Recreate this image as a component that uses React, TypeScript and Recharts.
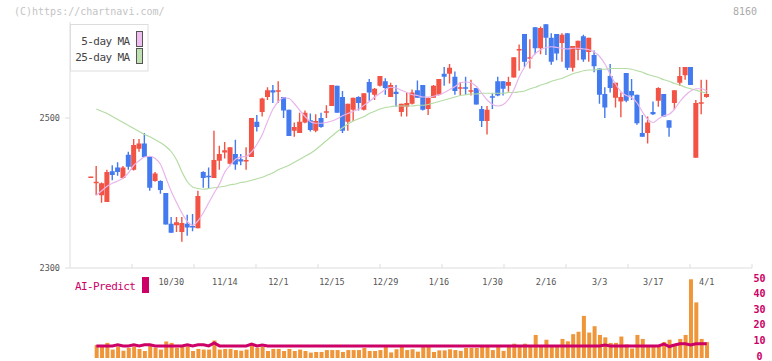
import { Bar, ComposedChart, Line, XAxis, YAxis } from "recharts";

const RED = "#f25345";
const BLUE = "#437af0";
const MAGENTA = "#cc0066";
const GRID = "#dddddd";
const MONO = "'DejaVu Sans Mono', monospace";

// daily OHLC, oldest first (i = 0 .. 115)
const opens = [
  2421, 2414, 2397, 2388, 2429, 2434, 2420, 2451, 2431, 2459,
  2466, 2448, 2416, 2416, 2400, 2359, 2357, 2348, 2359, 2356,
  2353, 2428, 2422, 2420, 2443, 2454, 2439, 2452, 2445, 2442,
  2448, 2495, 2508, 2528, 2537, 2536, 2528, 2511, 2483, 2480,
  2494, 2497, 2483, 2500, 2507, 2516, 2543, 2528, 2495, 2511,
  2528, 2511, 2548, 2531, 2543, 2549, 2528, 2535, 2508, 2515,
  2519, 2537, 2544, 2512, 2527, 2531, 2559, 2559, 2555, 2540,
  2540, 2536, 2540, 2512, 2496, 2529, 2549, 2549, 2543, 2554,
  2591, 2612, 2579, 2621, 2593, 2625, 2607, 2612, 2600, 2613,
  2567, 2591, 2609, 2588, 2584, 2566, 2532, 2556, 2527, 2522,
  2560, 2536, 2531, 2480, 2480, 2508, 2523, 2532, 2497, 2520,
  2547, 2557, 2568, 2447, 2520, 2528,
];
const highs = [
  2421.5, 2436, 2414, 2431, 2437, 2441, 2436, 2455, 2472, 2472,
  2480, 2449, 2428, 2417, 2400, 2368, 2368, 2368, 2371, 2372,
  2403, 2429, 2434, 2483, 2463, 2468, 2461, 2471, 2452, 2461,
  2500, 2504, 2527, 2541, 2544, 2549, 2528, 2511, 2494, 2507,
  2510, 2506, 2505, 2507, 2517, 2544, 2543, 2536, 2519, 2527,
  2529, 2533, 2552, 2540, 2556, 2553, 2547, 2544, 2519, 2534,
  2538, 2550, 2544, 2527, 2544, 2552, 2568, 2572, 2562, 2548,
  2555, 2551, 2540, 2516, 2516, 2533, 2555, 2549, 2555, 2581,
  2598, 2612, 2605, 2621, 2622, 2625, 2613, 2612, 2613, 2613,
  2596, 2603, 2611, 2607, 2590, 2566, 2541, 2572, 2547, 2534,
  2560, 2552, 2531, 2504, 2502, 2522, 2541, 2532, 2497, 2537,
  2568, 2568, 2568, 2524, 2551, 2551,
];
const lows = [
  2420.5, 2397, 2387, 2388, 2417, 2423, 2419, 2431, 2430, 2455,
  2448, 2403, 2415, 2399, 2358, 2347, 2348, 2335, 2343, 2349,
  2353, 2407, 2406, 2420, 2431, 2446, 2438, 2431, 2437, 2431,
  2448, 2482, 2502, 2524, 2520, 2520, 2500, 2476, 2475, 2480,
  2493, 2482, 2481, 2487, 2500, 2516, 2507, 2480, 2483, 2496,
  2510, 2510, 2523, 2524, 2542, 2531, 2528, 2515, 2502, 2502,
  2518, 2527, 2510, 2504, 2527, 2530, 2543, 2546, 2531, 2530,
  2531, 2530, 2518, 2488, 2478, 2512, 2529, 2530, 2535, 2554,
  2563, 2568, 2566, 2585, 2585, 2584, 2571, 2577, 2575, 2564,
  2562, 2577, 2575, 2575, 2561, 2519, 2500, 2534, 2514, 2501,
  2521, 2524, 2491, 2475, 2466, 2504, 2515, 2502, 2475, 2511,
  2543, 2551, 2544, 2447, 2505, 2527,
];
const closes = [
  2421, 2414, 2413, 2428, 2424, 2428, 2434, 2435, 2464, 2466,
  2448, 2407, 2426, 2404, 2358, 2347, 2361, 2360, 2354, 2354,
  2396, 2420, 2420, 2444, 2452, 2457, 2461, 2438, 2442, 2444,
  2500, 2488, 2526, 2537, 2534, 2536, 2510, 2476, 2488, 2495,
  2507, 2484, 2496, 2488, 2508, 2544, 2507, 2483, 2519, 2527,
  2520, 2533, 2534, 2539, 2556, 2540, 2544, 2532, 2519, 2520,
  2534, 2527, 2511, 2527, 2543, 2552, 2555, 2567, 2536, 2540,
  2539, 2536, 2518, 2496, 2511, 2527, 2530, 2539, 2548, 2581,
  2591, 2575, 2580, 2593, 2620, 2607, 2575, 2586, 2611, 2567,
  2596, 2603, 2578, 2607, 2569, 2531, 2514, 2540, 2547, 2528,
  2523, 2530, 2493, 2475, 2494, 2505, 2540, 2502, 2487, 2537,
  2556, 2568, 2544, 2520, 2520, 2532,
];

const ma5 = [
  null, 2397, 2403, 2409, 2413, 2416, 2420, 2427, 2437, 2443,
  2448, 2449, 2446, 2438, 2420, 2402, 2387, 2373, 2362, 2357,
  2363, 2374, 2387, 2400, 2412, 2428, 2437, 2445, 2448, 2449,
  2455, 2465, 2478, 2496, 2512, 2522, 2527, 2526, 2519, 2510,
  2502, 2495, 2493, 2493, 2494, 2496, 2499, 2503, 2506, 2509,
  2512, 2517, 2522, 2528, 2533, 2538, 2541, 2540, 2537, 2534,
  2531, 2530, 2528, 2528, 2529, 2531, 2534, 2538, 2542, 2547,
  2548, 2547, 2542, 2533, 2524, 2518, 2516, 2518, 2525, 2538,
  2555, 2568, 2578, 2586, 2591, 2594, 2595, 2594, 2593, 2592,
  2593, 2593, 2592, 2591, 2588, 2582, 2572, 2558, 2545, 2535,
  2530, 2527, 2520, 2508, 2498, 2494, 2499, 2503, 2505, 2512,
  2522, 2530, 2536, 2539, 2539, 2536,
];
const ma25 = [
  null, 2512, 2509, 2506, 2502, 2498, 2494, 2490, 2486, 2482,
  2478, 2475, 2471, 2467, 2462, 2455, 2444, 2428, 2415, 2408,
  2406, 2405, 2406, 2407, 2408, 2409, 2411, 2412, 2414, 2415,
  2417, 2419, 2421, 2424, 2427, 2431, 2434, 2437, 2441, 2445,
  2449, 2453, 2458, 2464, 2470, 2476, 2482, 2487, 2492, 2496,
  2499, 2502, 2506, 2509, 2512, 2514, 2515, 2516, 2516, 2516,
  2516, 2517, 2517, 2518, 2520, 2522, 2524, 2526, 2528, 2530,
  2531, 2532, 2532, 2533, 2533, 2533, 2533, 2533, 2534, 2534,
  2535, 2536, 2539, 2541, 2544, 2546, 2549, 2551, 2553, 2556,
  2559, 2561, 2563, 2564, 2564, 2565, 2565, 2566, 2566, 2566,
  2566, 2565, 2563, 2561, 2558, 2556, 2554, 2551, 2549, 2546,
  2544, 2541, 2539, 2537, 2535, 2533,
];

const volume = [
  null, 8.2, 7.4, 9.5, 5.3, 7.2, 4.6, 6.3, 7.2, 5.7,
  4.4, 7.8, 6.5, 5.3, 10.4, 9.5, 6.5, 7.4, 7.4, 4.4,
  5.7, 5.3, 5.3, 11, 5.3, 5.7, 5.7, 5, 4.6, 5.3,
  8.2, 6.5, 7, 4.4, 5.7, 5.7, 4.4, 5.7, 4.4, 5.3,
  4.4, 3.4, 3.8, 3.8, 5, 5, 5, 3.8, 5, 5,
  5, 6.3, 4.4, 4.4, 5, 7.4, 3.5, 5.5, 7, 5,
  5.5, 4, 7.5, 7.5, 3.8, 4.8, 4.8, 5.5, 5, 4.5,
  6.3, 6.3, 6.3, 7.5, 7.5, 5, 7.5, 4.5, 7.5, 9,
  7.5, 9, 7.5, 14.5, 7.5, 11.5, 7.5, 7.5, 12, 10.5,
  15, 16.5, 26.5, 16, 20, 14.5, 13, 9.5, 9.5, 13.5,
  8.5, 6, 14.5, 12, 7, 7, 7, 10, 11.5, 8,
  12, 14.5, 49.5, 35, 12, 10,
];
const aiPredict = [
  null, 7.6, 7.6, 7.6, 7.6, 8.3, 7.6, 7.6, 8.3, 7.6,
  8.3, 8.3, 7.6, 7.6, 7.6, 7.6, 7.6, 7.6, 8.3, 7.6,
  8.3, 8.3, 7.6, 9.5, 7.6, 7.6, 7.6, 7.6, 7.6, 7.6,
  8.8, 7.6, 8.2, 7.6, 7.6, 7.6, 7.6, 7.6, 7.6, 7.6,
  7.6, 7.6, 7.6, 7.6, 7.6, 7.6, 7.6, 7.6, 7.6, 7.6,
  7.6, 7.6, 7.6, 7.6, 7.6, 7.6, 7.6, 7.6, 7.6, 7.6,
  7.6, 7.6, 7.6, 7.6, 7.6, 7.6, 7.6, 7.6, 7.6, 7.6,
  7.6, 7.6, 7.6, 7.6, 7.6, 7.6, 7.6, 7.6, 7.6, 7.6,
  7.6, 7.6, 7.6, 7.6, 7.6, 7.6, 7.6, 7.6, 7.6, 7.6,
  7.6, 7.6, 7.6, 7.6, 7.6, 7.6, 8.1, 7.6, 7.6, 7.6,
  7.6, 7.6, 7.6, 7.6, 7.6, 7.6, 7.6, 8.8, 7.2, 8.2,
  9.0, 9.0, 8.2, 8.9, 8.9, 8.9,
];

const dateTicks = [15, 25, 35, 45, 55, 65, 75, 85, 95, 105, 115];
const dateLabels = ["10/30", "11/14", "12/1", "12/15", "12/29", "1/16", "1/30", "2/16", "3/3", "3/17", "4/1"];
const priceTicks = [2300, 2500];
const volTicks = [0, 10, 20, 30, 40, 50];

// candle slots: index 0 sits 21px right of the plot edge, 5.354px apart
const X_DOMAIN: [number, number] = [-3.922, 123.46];
// the x axis carries 11 evenly spaced tick marks, independent of the date labels
const GRID_STEP = (X_DOMAIN[1] - X_DOMAIN[0]) / 11;
const gridTicks = Array.from({ length: 11 }, (_, k) => X_DOMAIN[0] + (k + 1) * GRID_STEP);
const xTicks = [...dateTicks, ...gridTicks].sort((a, b) => a - b);

const rows = opens.map((o, i) => ({
  i,
  o,
  c: closes[i],
  range: [lows[i], highs[i]],
  ma5: ma5[i],
  ma25: ma25[i],
  vol: volume[i],
  ai: aiPredict[i],
}));

function Candle(props: any) {
  const { x, y, width, height, payload } = props;
  if (x == null || y == null) return null;
  const [lo, hi] = payload.range;
  const top = Math.min(y, y + height);
  const h = Math.abs(height);
  const k = hi > lo ? h / (hi - lo) : 0;
  const py = (v: number) => top + (hi - v) * k;
  const color = payload.c >= payload.o ? RED : BLUE;
  const cx = x + width / 2;
  const bTop = py(Math.max(payload.o, payload.c));
  const bBot = py(Math.min(payload.o, payload.c));
  const bh = bBot - bTop;
  return (
    <g>
      <rect x={cx - 0.7} y={top} width={1.4} height={Math.max(h, 0.5)} fill={color} />
      <rect
        x={cx - 2.5}
        y={bh < 1.5 ? bTop - 0.75 : bTop}
        width={5}
        height={Math.max(bh, 1.5)}
        fill={color}
      />
    </g>
  );
}

// date label, or a short upward grid mark on the axis line
function DateTick({ x, y, payload }: any) {
  const k = dateTicks.indexOf(payload.value);
  if (k < 0) {
    return <line x1={x} x2={x} y1={y - 11} y2={y - 15} stroke={GRID} strokeWidth={1} />;
  }
  return (
    <text x={x} y={y} dy={6} textAnchor="middle" fill="#555" fontSize={8.5} fontFamily={MONO}>
      {dateLabels[k]}
    </text>
  );
}

// labels sit a touch tighter than the bars; the "0" must stay inside the frame
function VolTick({ x, y, payload }: any) {
  const dy = 1.6 + 1.6 * (payload.value / 50);
  return (
    <text x={x} y={y} dy={dy} textAnchor="middle" fill={MAGENTA} fontSize={10} fontWeight="bold" fontFamily={MONO}>
      {payload.value}
    </text>
  );
}

const axisText = { fill: "#555", fontSize: 8.5, fontFamily: MONO };

export default function App() {
  return (
    <div style={{ position: "absolute", left: 0, top: 0, width: 772, height: 361, background: "#fff" }}>
      <div style={{ position: "absolute", left: 0, top: 0 }}>
        <ComposedChart width={772} height={300} data={rows} margin={{ top: 22, right: 20, bottom: 0, left: 0 }}>
          <XAxis
            dataKey="i"
            type="number"
            domain={X_DOMAIN}
            ticks={xTicks}
            interval={0}
            height={32}
            axisLine={{ stroke: GRID }}
            tickLine={false}
            tickSize={6}
            tickMargin={5}
            tick={<DateTick />}
          />
          <YAxis
            domain={[2300, 2628]}
            ticks={priceTicks}
            width={70}
            axisLine={{ stroke: GRID }}
            tickLine={{ stroke: GRID }}
            tickSize={5}
            tickMargin={5}
            tick={axisText}
          />
          <Line dataKey="ma25" type="monotone" stroke="#b4dca4" strokeWidth={1.2} dot={false} activeDot={false} isAnimationActive={false} />
          <Line dataKey="ma5" type="monotone" stroke="#e8b4ec" strokeWidth={1.2} dot={false} activeDot={false} isAnimationActive={false} />
          <Bar dataKey="range" barSize={5} shape={(p: any) => <Candle {...p} />} isAnimationActive={false} />
        </ComposedChart>
      </div>

      <div style={{ position: "absolute", left: 0, top: 0 }}>
        <ComposedChart width={772} height={361} data={rows} margin={{ top: 278.5, right: 0, bottom: 3, left: 70 }}>
          <XAxis dataKey="i" type="number" domain={X_DOMAIN} hide />
          <YAxis
            orientation="right"
            domain={[0, 50]}
            ticks={volTicks}
            interval={0}
            width={20}
            axisLine={false}
            tickLine={false}
            tickSize={0}
            tickMargin={7.5}
            tick={<VolTick />}
          />
          <Bar dataKey="vol" barSize={4} fill="#f0963a" isAnimationActive={false} />
          <Line dataKey="ai" type="linear" stroke={MAGENTA} strokeWidth={3} dot={false} activeDot={false} isAnimationActive={false} />
        </ComposedChart>
      </div>

      <svg width={772} height={361} style={{ position: "absolute", left: 0, top: 0, pointerEvents: "none" }}>
        <text x={14} y={15} fontSize={10} fill="#c4c4c4" fontFamily={MONO}>
          (C)https://chartnavi.com/
        </text>
        <text x={757} y={15} textAnchor="end" fontSize={10} fill="#aaaaaa" fontFamily={MONO}>
          8160
        </text>
        <rect x={70.5} y={24.5} width={77.5} height={46.5} fill="#fff" stroke={GRID} />
        <text x={129.5} y={45} textAnchor="end" fontSize={11} letterSpacing={-0.6} fill="#444" fontFamily={MONO}>
          5-day MA
        </text>
        <rect x={136.5} y={31.5} width={6} height={15} fill="#efbdef" stroke="#555" />
        <text x={129.5} y={61} textAnchor="end" fontSize={11} letterSpacing={-0.6} fill="#444" fontFamily={MONO}>
          25-day MA
        </text>
        <rect x={136.5} y={48.5} width={6} height={15} fill="#bfe0b0" stroke="#555" />
        <text x={75} y={290} fontSize={11} letterSpacing={-0.6} fill={MAGENTA} fontFamily={MONO}>
          AI-Predict
        </text>
        <rect x={142} y={277} width={7} height={16} fill={MAGENTA} />
      </svg>
    </div>
  );
}
